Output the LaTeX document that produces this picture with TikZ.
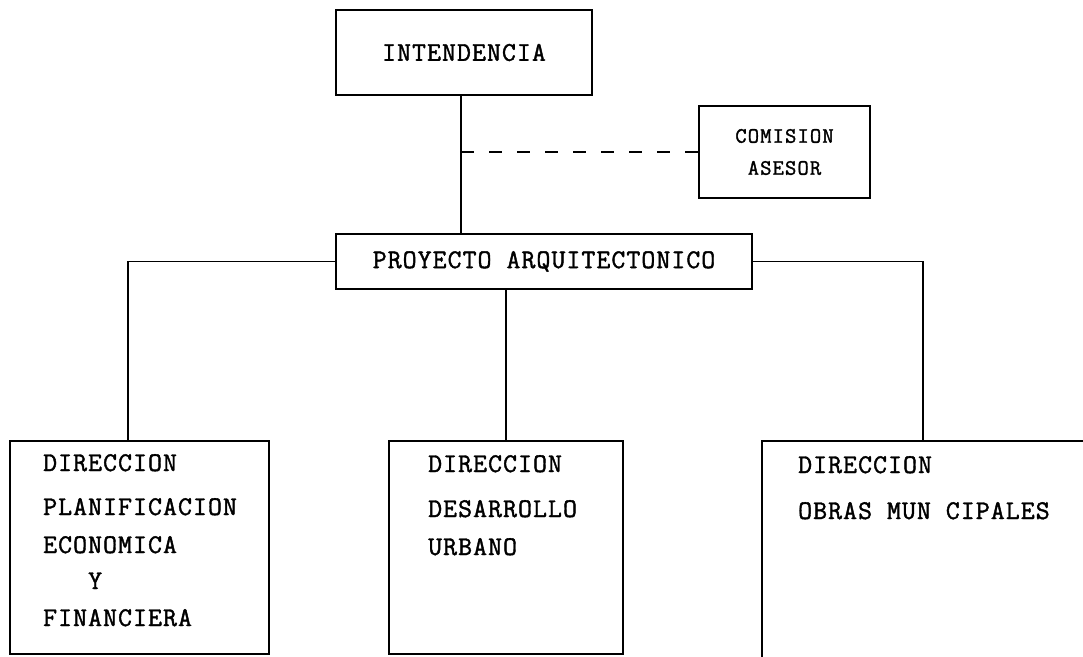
\documentclass[tikz,border=0pt]{standalone}
\usepackage{fontspec}
\newfontfamily\typew{Latin Modern Mono}[LetterSpace=4, FakeBold=1.5]
\newfontfamily\typews{Latin Modern Mono}[LetterSpace=5, FakeBold=1.5]
\begin{document}
\begin{tikzpicture}[x=1pt,y=-1pt,
  box/.style={draw, line width=1.8pt, inner sep=0pt, font=\typew\fontsize{27}{30}\selectfont},
  smallbox/.style={box, align=center, font=\typews\fontsize{22}{32}\selectfont},
  lbl/.style={inner sep=0pt, anchor=base west, font=\typew\fontsize{27}{30}\selectfont},
  conn/.style={line width=1.8pt},
  dashline/.style={line width=1.4pt, dash pattern=on 13pt off 15pt}
]
\clip (0,0) rectangle (1083,656);
\fill[white] (0,0) rectangle (1083,656);

% boxes
\node[box, minimum width=256pt, minimum height=85pt] (int) at (464,52.5) {INTENDENCIA};
\node[smallbox, minimum width=171pt, minimum height=92pt] (com) at (784.5,152) {COMISION\\ASESOR};
\node[box, minimum width=416pt, minimum height=55pt] (proj) at (544,261.5) {PROYECTO ARQUITECTONICO};
\node[box, minimum width=259pt, minimum height=213pt] (lbox) at (139.5,547.5) {};
\node[box, minimum width=234pt, minimum height=213pt] (mbox) at (506,547.5) {};
\node[box, minimum width=360pt, minimum height=260pt] (rbox) at (942,571) {};

% texts of the lower boxes
\node[lbl] (l1) at (43,471) {DIRECCION};
\node[lbl] (l2) at (43,515) {PLANIFICACION};
\node[lbl] (l3) at (43,553) {ECONOMICA};
\node[lbl] (l4) at (88,589) {Y};
\node[lbl] (l5) at (43,626) {FINANCIERA};

\node[lbl] (m1) at (428,472) {DIRECCION};
\node[lbl] (m2) at (428,517) {DESARROLLO};
\node[lbl] (m3) at (428,555) {URBANO};

\node[lbl] (r1) at (798,473) {DIRECCION};
\node[lbl] (r2) at (798,519) {OBRAS MUN CIPALES};

% connectors
\coordinate (vx) at (461,0);
\draw[conn] (int.south -| vx) -- (proj.north -| vx);
\draw[dashline] (com.west -| vx) -- (com.west);
\coordinate (lt) at (128,441);
\draw[conn] (proj.west) -| (lt);
\draw[conn] (mbox.north) -- (mbox.north |- proj.south);
\coordinate (rt) at (923,441);
\draw[conn] (proj.east) -| (rt);
\end{tikzpicture}
\end{document}
